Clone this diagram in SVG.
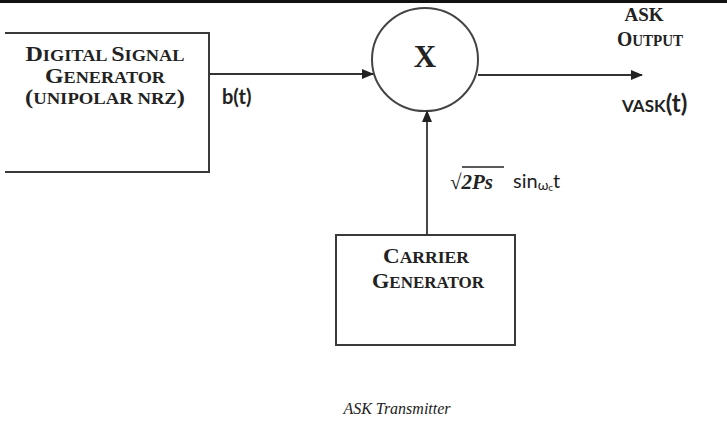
<svg xmlns="http://www.w3.org/2000/svg" width="727" height="439" viewBox="0 0 727 439">
<style>
.box{fill:none;stroke:#3a3a3a;stroke-width:2}
.wire{fill:none;stroke:#333;stroke-width:1.8}
.sc{font-family:"Liberation Serif",serif;font-weight:bold;fill:#222;text-anchor:middle}
.cal{font-family:Lato,"Liberation Sans",sans-serif;font-weight:bold;fill:#222}
.big{font-size:21px}
.sm{font-size:16px}
</style>
<defs>
<marker id="ah" markerWidth="12" markerHeight="10" refX="11" refY="5" orient="auto" markerUnits="userSpaceOnUse">
<path d="M0,0 L12,5 L0,10 Z" fill="#222"/>
</marker>
</defs>
<rect x="0" y="0" width="727" height="439" fill="#fff"/>
<rect x="0" y="0" width="727" height="3" fill="#111"/>

<g id="digital-signal-generator">
<path class="box" d="M5,33 H209 V172 H5"/>
<text class="sc" x="105" y="61" textLength="159" lengthAdjust="spacingAndGlyphs"><tspan class="big">D</tspan><tspan class="sm">IGITAL </tspan><tspan class="big">S</tspan><tspan class="sm">IGNAL</tspan></text>
<text class="sc" x="105" y="83" textLength="120" lengthAdjust="spacingAndGlyphs"><tspan class="big">G</tspan><tspan class="sm">ENERATOR</tspan></text>
<text class="sc" x="105" y="104" textLength="160" lengthAdjust="spacingAndGlyphs"><tspan class="big">(</tspan><tspan class="sm">UNIPOLAR NRZ</tspan><tspan class="big">)</tspan></text>
</g>

<g id="multiplier">
<ellipse cx="425" cy="59.5" rx="53" ry="51.5" fill="#fff" stroke="#444" stroke-width="2"/>
<text x="425" y="67" font-family="Liberation Serif,serif" font-weight="bold" font-size="31" fill="#222" text-anchor="middle">X</text>
</g>

<g id="carrier-generator">
<rect class="box" x="336" y="235" width="179" height="110"/>
<text class="sc" x="426" y="263" textLength="86" lengthAdjust="spacingAndGlyphs"><tspan class="big">C</tspan><tspan class="sm">ARRIER</tspan></text>
<text class="sc" x="428" y="288" textLength="112" lengthAdjust="spacingAndGlyphs"><tspan class="big">G</tspan><tspan class="sm">ENERATOR</tspan></text>
</g>

<g id="connectors">
<line class="wire" x1="209" y1="74" x2="373" y2="74" marker-end="url(#ah)"/>
<line class="wire" x1="478" y1="75" x2="642" y2="75" marker-end="url(#ah)"/>
<line class="wire" x1="427" y1="235" x2="427" y2="111" marker-end="url(#ah)"/>
</g>

<g id="labels">
<text class="sc" x="644" y="21" font-size="19">ASK</text>
<text class="sc" x="650" y="46" textLength="66" lengthAdjust="spacingAndGlyphs"><tspan class="big">O</tspan><tspan class="sm">UTPUT</tspan></text>
<text class="cal" x="222" y="104" font-size="20">b(t)</text>
<text class="cal" x="622" y="112" font-size="24"><tspan font-size="17">VASK</tspan>(t)</text>
<text x="450" y="189" font-family="Liberation Serif,serif" font-size="21" fill="#222"><tspan>√</tspan><tspan font-weight="bold" font-style="italic">2Ps</tspan></text>
<line x1="462" y1="167" x2="504" y2="167" stroke="#222" stroke-width="1.5"/>
<text class="cal" x="513" y="188" font-size="20" style="font-weight:normal">sin<tspan font-size="14" dy="2">ω</tspan><tspan font-size="10" dy="1">c</tspan><tspan font-size="20" dy="-3">t</tspan></text>
<text x="397" y="414" font-family="Liberation Serif,serif" font-style="italic" font-size="16" fill="#222" text-anchor="middle">ASK Transmitter</text>
</g>
</svg>
